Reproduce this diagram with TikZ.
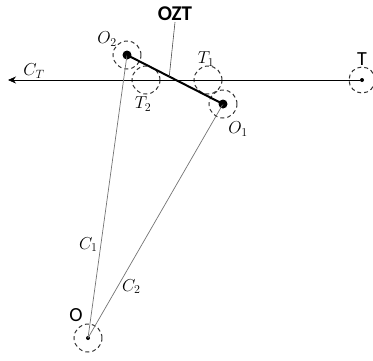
\documentclass[tikz,border=0pt]{standalone}
\usepackage{fontspec}
\setsansfont{Carlito}
\usetikzlibrary{%
	positioning,
	calc,
	arrows.meta
}

\begin{document}
\begin{tikzpicture}[x=1pt,y=-1pt,
		zone/.style={draw=black!80,dash pattern=on 4pt off 3pt,line width=1pt,circle,minimum size=28pt,inner sep=0pt},
		bigdot/.style={fill=black,circle,minimum size=9pt,inner sep=0pt},
		smalldot/.style={fill=black,circle,minimum size=4pt,inner sep=0pt},
		lbl/.style={inner sep=1pt,font=\fontsize{18}{20}\selectfont},
		sflbl/.style={inner sep=1pt,font=\sffamily\fontsize{20}{22}\selectfont},
		ray/.style={draw=black!55,line width=.7pt}
	]
	\useasboundingbox (0,0) rectangle (373,360);
	
	%points
	\node (O) [smalldot] at (88,338) {};
	\node (O1) [bigdot] at (223,104) {};
	\node (O2) [bigdot] at (127,55) {};
	\node (T) [smalldot] at (362,80) {};
	\coordinate (CT) at (8,80);
	
	%zones
	\node (O-zone) [zone] at (O) {};
	\node (O1-zone) [zone] at (O1) {};
	\node (O2-zone) [zone] at (O2) {};
	\node (T-zone) [zone,minimum size=26pt] at (T) {};
	\node (T1-zone) [zone] at (208,80) {};
	\node (T2-zone) [zone] at (146,80) {};
	
	%lines
	\draw [-{Stealth[length=8pt,width=7pt]},line width=.7pt] (T) -- (CT);
	\draw [ray] (O.center) -- (O2.center) node [lbl,pos=.33,left=2pt,text=black] {$C_1$};
	\draw [ray] (O.center) -- (O1.center) node [lbl,pos=.22,right=3pt,text=black] {$C_2$};
	\draw [line width=2pt] (O2.center) -- (O1.center) coordinate [pos=.44] (Z);
	
	%labels
	\node (ozt) [font=\sffamily\bfseries\fontsize{21}{23}\selectfont,inner sep=1pt] at (175,14) {OZT};
	\draw [black!70,line width=.6pt] (ozt.south) -- (Z);
	\node (CT-lbl) [lbl] at (34,71) {$C_T$};
	\node (T-lbl) [sflbl] at (362,59) {T};
	\node (O-lbl) [sflbl] at (76,315) {O};
	\node (T1-lbl) [lbl] at (206,59) {$T_1$};
	\node (T2-lbl) [lbl] at (143,104) {$T_2$};
	\node (O1-lbl) [lbl] at (238,129) {$O_1$};
	\node (O2-lbl) [lbl] at (107,39) {$O_2$};
\end{tikzpicture}
\end{document}
